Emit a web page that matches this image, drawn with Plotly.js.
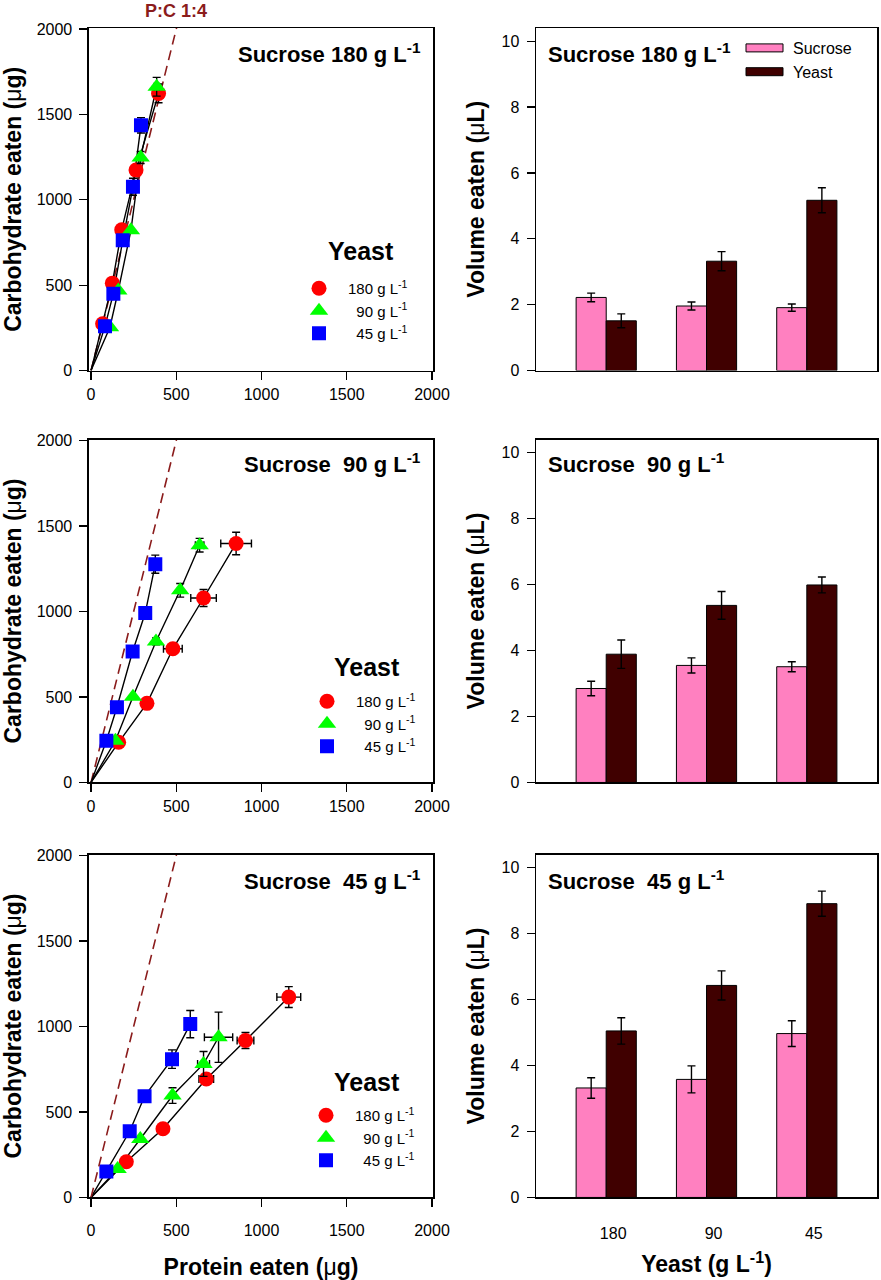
<!DOCTYPE html>
<html>
<head>
<meta charset="utf-8">
<script src="https://cdn.plot.ly/plotly-3.0.1.min.js"></script>
<style>
  html, body { margin: 0; padding: 0; background: #fff; }
  #chart { width: 881px; height: 1280px; }
</style>
</head>
<body>
<div id="chart"></div>
<script>
// yeast concentrations (g/L), one series per level
var yeastLevels = ['180', '90', '45'];
var yeastColors = ['#ff0000', '#00ff00', '#0000ff'];
var yeastSymbols = ['circle', 'triangle-up', 'square'];
var yeastSizes = [15, 16, 14];

// P:C 1:4 reference line (protein, carbohydrate)
var pcLineProtein = [0, 560];
var pcLineCarb = [0, 2240];

// cumulative protein / carbohydrate eaten (ug); rows = yeast 180, 90, 45
var suc180Protein = [[68, 125, 180, 264, 396], [111, 160, 234, 291, 385], [82, 131, 186, 246, 293]];
var suc180Carb = [[274, 512, 825, 1174, 1623], [254, 469, 821, 1248, 1662], [260, 450, 763, 1076, 1436]];
var suc180ProteinErr = [[0, 0, 0, 25, 30], [0, 0, 0, 0, 15], [0, 0, 0, 0, 10]];
var suc180CarbErr = [[0, 0, 15, 30, 55], [0, 0, 0, 35, 55], [0, 0, 30, 50, 45]];

var suc90Protein = [[162, 328, 480, 660, 851], [143, 246, 381, 523, 637], [90, 152, 244, 318, 377]];
var suc90Carb = [[235, 463, 782, 1079, 1398], [244, 502, 825, 1124, 1388], [244, 440, 766, 991, 1277]];
var suc90ProteinErr = [[0, 0, 55, 75, 90], [0, 0, 0, 0, 25], [0, 0, 0, 0, 0]];
var suc90CarbErr = [[0, 0, 20, 50, 66], [0, 0, 20, 40, 40], [0, 0, 0, 0, 53]];

var suc45Protein = [[207, 422, 676, 906, 1160], [156, 289, 478, 660, 748], [90, 227, 314, 475, 582]];
var suc45Carb = [[209, 402, 693, 918, 1172], [166, 342, 596, 781, 937], [152, 387, 592, 809, 1014]];
var suc45ProteinErr = [[0, 0, 43, 49, 70], [0, 0, 0, 35, 83], [0, 0, 0, 0, 20]];
var suc45CarbErr = [[0, 0, 0, 47, 61], [0, 0, 46, 73, 147], [0, 0, 0, 54, 80]];

// volume eaten (uL) from the sucrose and yeast capillaries, per yeast level
var vol180Sucrose = [2.22, 1.96, 1.91], vol180SucroseErr = [0.13, 0.12, 0.11];
var vol180Yeast = [1.51, 3.32, 5.17], vol180YeastErr = [0.21, 0.29, 0.38];
var vol90Sucrose = [2.85, 3.55, 3.51], vol90SucroseErr = [0.22, 0.23, 0.15];
var vol90Yeast = [3.89, 5.37, 5.99], vol90YeastErr = [0.43, 0.42, 0.24];
var vol45Sucrose = [3.32, 3.58, 4.97], vol45SucroseErr = [0.31, 0.41, 0.39];
var vol45Yeast = [5.05, 6.43, 8.91], vol45YeastErr = [0.40, 0.44, 0.38];

var FONT = 'Liberation Sans, Arial, sans-serif';
var MU = '<span style="font-weight:normal">\u03bc</span>';

function noZero(arr) {
  return arr.map(function (v) { return v > 0 ? v : NaN; });
}

function scatterPanel(protein, carb, pErr, cErr, xa, ya, legendId, pcAxis) {
  var out = [];
  out.push({
    x: pcLineProtein, y: pcLineCarb, xaxis: pcAxis || xa, yaxis: ya, mode: 'lines',
    line: {color: '#8b1c1c', width: 1.6, dash: '10px,6px'}, showlegend: false, hoverinfo: 'skip'
  });
  for (var i = 0; i < 3; i++) {
    out.push({
      x: [0].concat(protein[i]), y: [0].concat(carb[i]), xaxis: xa, yaxis: ya, mode: 'lines',
      line: {color: 'black', width: 1.4}, showlegend: false, hoverinfo: 'skip'
    });
  }
  for (var j = 0; j < 3; j++) {
    out.push({
      x: protein[j], y: carb[j], xaxis: xa, yaxis: ya, mode: 'markers',
      name: (j === 0 ? '' : '  ') + yeastLevels[j] + ' g L<sup>-1</sup>',
      legend: legendId,
      marker: {color: yeastColors[j], symbol: yeastSymbols[j], size: yeastSizes[j]},
      error_x: {type: 'data', array: noZero(pErr[j]), color: 'black', thickness: 1.4, width: 4},
      error_y: {type: 'data', array: noZero(cErr[j]), color: 'black', thickness: 1.4, width: 4}
    });
  }
  return out;
}

function barPanel(sucrose, sucroseErr, yeast, yeastErr, xa, ya, legendId) {
  var show = !!legendId;
  return [
    {type: 'bar', x: yeastLevels, y: sucrose, xaxis: xa, yaxis: ya, name: 'Sucrose',
     legend: legendId || 'legend', showlegend: show,
     marker: {color: '#ff80c0', line: {color: 'black', width: 1}},
     error_y: {type: 'data', array: sucroseErr, color: 'black', thickness: 1.4, width: 4}},
    {type: 'bar', x: yeastLevels, y: yeast, xaxis: xa, yaxis: ya, name: 'Yeast',
     legend: legendId || 'legend', showlegend: show,
     marker: {color: '#400000', line: {color: 'black', width: 1}},
     error_y: {type: 'data', array: yeastErr, color: 'black', thickness: 1.4, width: 4}}
  ];
}

var data = []
  .concat(scatterPanel(suc180Protein, suc180Carb, suc180ProteinErr, suc180CarbErr, 'x', 'y', 'legend'))
  .concat(scatterPanel(suc90Protein, suc90Carb, suc90ProteinErr, suc90CarbErr, 'x2', 'y2', 'legend2'))
  .concat(scatterPanel(suc45Protein, suc45Carb, suc45ProteinErr, suc45CarbErr, 'x3', 'y3', 'legend3', 'x7'))
  .concat(barPanel(vol180Sucrose, vol180SucroseErr, vol180Yeast, vol180YeastErr, 'x4', 'y4', 'legend4'))
  .concat(barPanel(vol90Sucrose, vol90SucroseErr, vol90Yeast, vol90YeastErr, 'x5', 'y5', null))
  .concat(barPanel(vol45Sucrose, vol45SucroseErr, vol45Yeast, vol45YeastErr, 'x6', 'y6', null));

var rows = [[0.7105, 0.9781], [0.3887, 0.6566], [0.0645, 0.3324]];
var leftCol = [0.1010, 0.4915];
var rightCol = [0.6084, 0.9955];

function frame(extra) {
  var a = {
    showline: true, linecolor: 'black', linewidth: 1.5, mirror: true,
    showgrid: false, zeroline: false, ticks: 'outside', ticklen: 8, tickwidth: 1.3,
    tickcolor: 'black', tickfont: {family: FONT, size: 16, color: 'black'}
  };
  for (var k in extra) a[k] = extra[k];
  return a;
}

function titleObj(text, standoff) {
  return {text: text, standoff: standoff, font: {family: FONT, size: 23, weight: 'bold', color: 'black'}};
}

var carbTitle = 'Carbohydrate eaten (' + MU + 'g)';
var volTitle = 'Volume eaten (' + MU + 'L)';
var carbTicks = [0, 500, 1000, 1500, 2000];
var volTicks = [0, 2, 4, 6, 8, 10];

var layout = {
  width: 881, height: 1280,
  margin: {l: 0, r: 0, t: 0, b: 0},
  paper_bgcolor: 'white', plot_bgcolor: 'white',
  font: {family: FONT, color: 'black', size: 15},
  barmode: 'group', bargap: 0.4, bargroupgap: 0,
  xaxis: frame({domain: leftCol, anchor: 'y', range: [-12, 2006], tickvals: carbTicks, ticklabelstandoff: 1}),
  yaxis: frame({domain: rows[0], anchor: 'x', range: [0, 2006], tickvals: carbTicks, ticklabelstandoff: 4, title: titleObj(carbTitle, 12)}),
  xaxis2: frame({domain: leftCol, anchor: 'y2', range: [-12, 2006], tickvals: carbTicks, ticklabelstandoff: 1}),
  yaxis2: frame({domain: rows[1], anchor: 'x2', range: [0, 2006], tickvals: carbTicks, ticklabelstandoff: 4, title: titleObj(carbTitle, 12)}),
  // bottom-left frame draws the ticks; its labels and title sit on an overlaid axis (same range)
  xaxis3: frame({domain: leftCol, anchor: 'y3', range: [-12, 2006], tickvals: carbTicks, showticklabels: false}),
  xaxis7: {overlaying: 'x3', anchor: 'y3', side: 'bottom', range: [-12, 2006], tickvals: carbTicks,
           showline: false, showgrid: false, zeroline: false, ticks: '', ticklabelstandoff: 22,
           tickfont: {family: FONT, size: 16, color: 'black'}, title: titleObj('Protein eaten (' + MU + 'g)', 21)},
  yaxis3: frame({domain: rows[2], anchor: 'x3', range: [0, 2006], tickvals: carbTicks, ticklabelstandoff: 4, title: titleObj(carbTitle, 12)}),
  xaxis4: frame({domain: rightCol, anchor: 'y4', type: 'category', range: [-0.7, 2.7], ticks: '', showticklabels: false}),
  yaxis4: frame({domain: rows[0], anchor: 'x4', range: [0, 10.4], tickvals: volTicks, ticklabelstandoff: 4, title: titleObj(volTitle, 10)}),
  xaxis5: frame({domain: rightCol, anchor: 'y5', type: 'category', range: [-0.7, 2.7], ticks: '', showticklabels: false}),
  yaxis5: frame({domain: rows[1], anchor: 'x5', range: [0, 10.4], tickvals: volTicks, ticklabelstandoff: 4, title: titleObj(volTitle, 10)}),
  xaxis6: frame({domain: rightCol, anchor: 'y6', type: 'category', range: [-0.7, 2.7], ticks: '', ticklabelstandoff: 21, ticklabelshift: 7,
                 title: titleObj('Yeast (g L<sup>-1</sup>)', 15)}),
  yaxis6: frame({domain: rows[2], anchor: 'x6', range: [0, 10.4], tickvals: volTicks, ticklabelstandoff: 4, title: titleObj(volTitle, 10)}),
  legend: {x: 290 / 881, y: 1 - 272 / 1280, xanchor: 'left', yanchor: 'top', bgcolor: 'rgba(0,0,0,0)', itemwidth: 48, font: {family: FONT, size: 15}},
  legend2: {x: 298 / 881, y: 1 - 685 / 1280, xanchor: 'left', yanchor: 'top', bgcolor: 'rgba(0,0,0,0)', itemwidth: 48, font: {family: FONT, size: 15}},
  legend3: {x: 297 / 881, y: 1 - 1099 / 1280, xanchor: 'left', yanchor: 'top', bgcolor: 'rgba(0,0,0,0)', itemwidth: 48, font: {family: FONT, size: 15}},
  legend4: {x: 736 / 881, y: 1 - 31 / 1280, xanchor: 'left', yanchor: 'top', bgcolor: 'rgba(0,0,0,0)', itemwidth: 47, font: {family: FONT, size: 16}},
  annotations: []
};

var boldFont = function (size, color) {
  return {family: FONT, size: size, weight: 'bold', color: color || 'black'};
};

function note(text, x, y, xanchor, size, color) {
  layout.annotations.push({text: text, xref: 'paper', yref: 'paper', x: x, y: y,
    xanchor: xanchor, yanchor: 'middle', showarrow: false, font: boldFont(size, color)});
}

var sucroseLabels = ['Sucrose 180 g L<sup>-1</sup>', 'Sucrose  90 g L<sup>-1</sup>', 'Sucrose  45 g L<sup>-1</sup>'];
var labelY = [53, 463, 880];
var yeastY = [251, 667, 1082];
for (var r = 0; r < 3; r++) {
  note(sucroseLabels[r], 423 / 881, 1 - labelY[r] / 1280, 'right', 22);
  note(sucroseLabels[r], 546 / 881, 1 - labelY[r] / 1280, 'left', 22);
  note('Yeast', (r === 0 ? 361 : 367) / 881, 1 - yeastY[r] / 1280, 'center', 25);
}
layout.annotations.push({text: 'P:C 1:4', xref: 'x', yref: 'paper', x: 500, y: 1 - 11 / 1280,
  xanchor: 'center', yanchor: 'middle', showarrow: false, font: boldFont(18, '#8b1c1c')});

// flat, wide swatches for the bar legend like the original
function flattenBarSwatches(gd) {
  gd.querySelectorAll('g.legendpoints path').forEach(function (p) {
    if (p.getAttribute('d') === 'M6,6H-6V-6H6Z') p.setAttribute('d', 'M-18.5,4H18.5V-4H-18.5Z');
  });
}

Plotly.newPlot('chart', data, layout, {staticPlot: true}).then(function (gd) {
  flattenBarSwatches(gd);
  gd.on('plotly_afterplot', function () { flattenBarSwatches(gd); });
});
</script>
</body>
</html>
